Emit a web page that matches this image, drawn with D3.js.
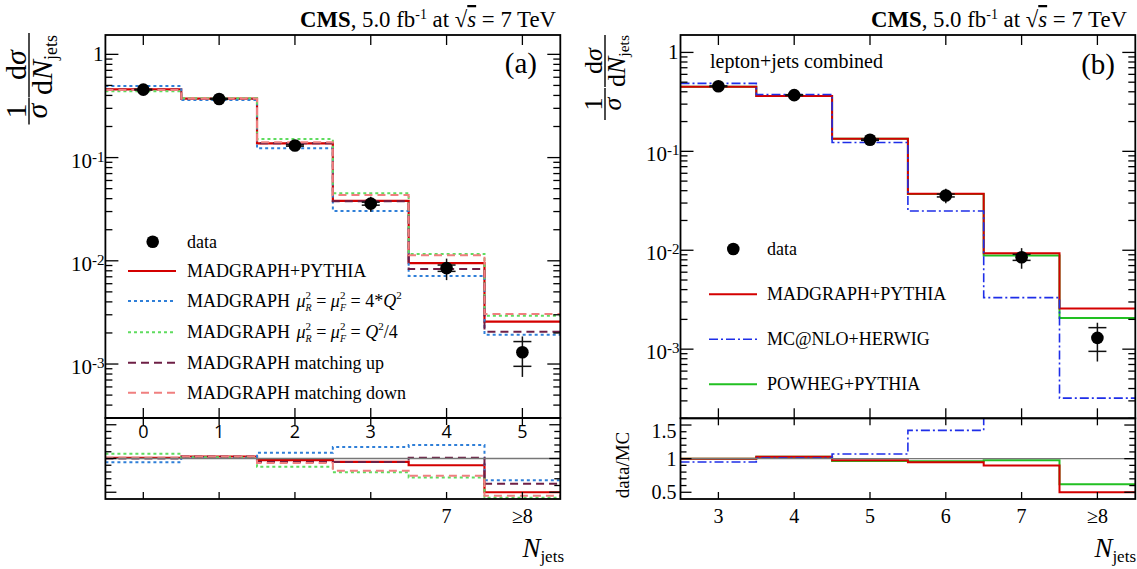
<!DOCTYPE html>
<html>
<head>
<meta charset="utf-8">
<script src="https://cdn.jsdelivr.net/npm/d3@7"></script>
<style>
  html, body { margin: 0; padding: 0; background: #fff; }
  svg text { font-family: "Liberation Serif", "Times New Roman", serif; fill: #000; }
</style>
</head>
<body>
<svg id="chart" width="1137" height="569"></svg>
<script>
// ---------------- data ----------------
const binCenters = [3, 4, 5, 6, 7, 8];
const xTickLabels = ["3", "4", "5", "6", "7", "\u22658"];
const ratioTopLabelsA = ["0", "1", "2", "3", "4", "5"];
const bottomLabelBinsA = [7, 8];
const bottomLabelsA = ["7", "\u22658"];
const logMajorTicks = [1, 0.1, 0.01, 0.001];
const logExponents = [0, -1, -2, -3];
const ratioMajorTicks = [0.5, 1, 1.5];
const ratioTickLabels = ["0.5", "1", "1.5"];

// normalised differential cross section (data)
const dataValues = [0.455, 0.370, 0.131, 0.0358, 0.0085, 0.0013];
const dataStatErr = [0.004, 0.004, 0.002, 0.0012, 0.0006, 0.00035];
const dataTotalErr = [0.012, 0.010, 0.005, 0.006, 0.0020, 0.00055];

// (a) MadGraph variations
const madgraphPythia = [0.458, 0.372, 0.137, 0.0380, 0.00948, 0.00258];
const madgraphScaleUp = [0.493, 0.361, 0.123, 0.0304, 0.00714, 0.00192];
const madgraphScaleDown = [0.440, 0.375, 0.151, 0.0451, 0.01166, 0.00294];
const madgraphMatchUp = [0.455, 0.370, 0.138, 0.0377, 0.00835, 0.00206];
const madgraphMatchDown = [0.452, 0.372, 0.141, 0.0435, 0.01130, 0.00306];

// (a) data / MC ratios
const ratioMadgraphPythiaA = [1.01, 1.03, 0.975, 0.95, 0.90, 0.50];
const ratioScaleUp = [0.945, 1.01, 1.085, 1.17, 1.20, 0.676];
const ratioScaleDown = [1.07, 1.02, 0.876, 0.796, 0.72, 0.42];
const ratioMatchUp = [1.00, 1.03, 0.95, 0.95, 1.01, 0.627];
const ratioMatchDown = [1.01, 1.03, 0.935, 0.82, 0.746, 0.45];

// (b) generator comparison
const madgraphPythiaB = [0.450, 0.362, 0.134, 0.0373, 0.00933, 0.00257];
const mcatnloHerwig = [0.486, 0.376, 0.123, 0.0249, 0.00332, 0.00032];
const powhegPythia = [0.450, 0.362, 0.134, 0.0371, 0.00883, 0.00207];

// (b) data / MC ratios
const ratioMadgraphPythiaB = [1.00, 1.03, 0.975, 0.945, 0.90, 0.50];
const ratioMcatnlo = [0.95, 1.01, 1.07, 1.42, 2.56, 4.06];
const ratioPowheg = [1.00, 1.03, 0.965, 0.96, 0.975, 0.62];

// ---------------- drawing ----------------
const svg = d3.select("#chart");
const RED = "#d40000";

function makePad(p) {
  p.x = d3.scaleLinear().domain([2.5, 8.5]).range([p.x0, p.x1]);
  p.y = d3.scaleLog().domain(p.yDomain).range([p.mainBot, p.top]);
  p.r = d3.scaleLinear().domain([0.4, 1.6]).range([p.ratioBot, p.mainBot]);
  const id = p.name;
  const defs = svg.append("defs");
  defs.append("clipPath").attr("id", "main-" + id).append("rect")
    .attr("x", p.x0).attr("y", p.top).attr("width", p.x1 - p.x0).attr("height", p.mainBot - p.top);
  defs.append("clipPath").attr("id", "ratio-" + id).append("rect")
    .attr("x", p.x0).attr("y", p.mainBot).attr("width", p.x1 - p.x0).attr("height", p.ratioBot - p.mainBot);
  p.gMain = svg.append("g").attr("clip-path", `url(#main-${id})`);
  p.gRatio = svg.append("g").attr("clip-path", `url(#ratio-${id})`);
  return p;
}

function stepPoints(vals) {
  const pts = [];
  vals.forEach((v, i) => { pts.push([binCenters[i] - 0.5, v]); pts.push([binCenters[i] + 0.5, v]); });
  return pts;
}

function drawHist(g, xs, ys, vals, style, clampDomain) {
  const line = d3.line()
    .x(d => xs(d[0]))
    .y(d => ys(clampDomain ? Math.max(clampDomain[0], Math.min(clampDomain[1], d[1])) : d[1]));
  g.append("path").attr("d", line(stepPoints(vals)))
    .attr("fill", "none").attr("stroke", style.color).attr("stroke-width", style.width)
    .attr("stroke-dasharray", style.dash || null);
}

function drawFrameAndTicks(p) {
  const g = svg.append("g").attr("stroke", "#000").attr("fill", "none");
  // x ticks on both pads
  binCenters.forEach(c => {
    const xx = p.x(c);
    g.append("line").attr("x1", xx).attr("x2", xx).attr("y1", p.top).attr("y2", p.top + 10).attr("stroke-width", 1.3);
    g.append("line").attr("x1", xx).attr("x2", xx).attr("y1", p.mainBot - 10).attr("y2", p.mainBot).attr("stroke-width", 1.3);
    g.append("line").attr("x1", xx).attr("x2", xx).attr("y1", p.mainBot).attr("y2", p.mainBot + 7).attr("stroke-width", 1.3);
    g.append("line").attr("x1", xx).attr("x2", xx).attr("y1", p.ratioBot - 7).attr("y2", p.ratioBot).attr("stroke-width", 1.3);
  });
  // main-pad log y ticks
  const [lo, hi] = p.yDomain;
  for (let e = -5; e <= 1; e++) {
    for (let m = 1; m <= 9; m++) {
      const v = m * Math.pow(10, e);
      if (v < lo || v > hi) continue;
      const len = m === 1 ? 13 : 7;
      const yy = p.y(v);
      g.append("line").attr("x1", p.x0).attr("x2", p.x0 + len).attr("y1", yy).attr("y2", yy).attr("stroke-width", 1.3);
      g.append("line").attr("x1", p.x1 - len).attr("x2", p.x1).attr("y1", yy).attr("y2", yy).attr("stroke-width", 1.3);
    }
  }
  // ratio-pad y ticks
  for (let k = 4; k <= 16; k++) {
    const v = k / 10;
    const len = (k % 5 === 0) ? 11 : 6;
    const yy = p.r(v);
    if (yy < p.mainBot + 1 || yy > p.ratioBot - 1) continue;
    g.append("line").attr("x1", p.x0).attr("x2", p.x0 + len).attr("y1", yy).attr("y2", yy).attr("stroke-width", 1.3);
    g.append("line").attr("x1", p.x1 - len).attr("x2", p.x1).attr("y1", yy).attr("y2", yy).attr("stroke-width", 1.3);
  }
  // frames
  g.append("rect").attr("x", p.x0).attr("y", p.top).attr("width", p.x1 - p.x0).attr("height", p.mainBot - p.top).attr("stroke-width", 1.8);
  g.append("rect").attr("x", p.x0).attr("y", p.mainBot).attr("width", p.x1 - p.x0).attr("height", p.ratioBot - p.mainBot).attr("stroke-width", 1.8);

  // main y labels
  logMajorTicks.forEach((v, i) => {
    const yy = p.y(v);
    const t = svg.append("text").attr("text-anchor", "end").attr("font-size", 21);
    if (logExponents[i] === 0) {
      t.attr("x", p.x0 - 2).attr("y", yy + 7).text("1");
    } else {
      t.attr("x", p.x0 - 1).attr("y", yy + 10);
      t.append("tspan").text("10");
      t.append("tspan").attr("font-size", 15).attr("dy", -6).text(String(logExponents[i]));
    }
  });
}

function drawData(p, r) {
  const g = svg.append("g");
  dataValues.forEach((v, i) => {
    const xx = p.x(binCenters[i]);
    g.append("line").attr("x1", xx).attr("x2", xx)
      .attr("y1", p.y(v + dataTotalErr[i])).attr("y2", p.y(v - dataTotalErr[i]))
      .attr("stroke", "#111").attr("stroke-width", 1.5);
    [v + dataStatErr[i], v - dataStatErr[i]].forEach(s => {
      g.append("line").attr("x1", xx - 9).attr("x2", xx + 9).attr("y1", p.y(s)).attr("y2", p.y(s))
        .attr("stroke", "#111").attr("stroke-width", 1.5);
    });
    g.append("circle").attr("cx", xx).attr("cy", p.y(v)).attr("r", r).attr("fill", "#000");
  });
}

function drawOneLine(p) {
  svg.append("line").attr("x1", p.x0).attr("x2", p.x1).attr("y1", p.r(1)).attr("y2", p.r(1))
    .attr("stroke", "#777").attr("stroke-width", 1.4);
}

function drawHeader(xRight) {
  const t = svg.append("text").attr("x", xRight).attr("y", 27).attr("text-anchor", "end").attr("font-size", 22.8);
  t.append("tspan").attr("font-weight", "bold").text("CMS");
  t.append("tspan").text(", 5.0 fb");
  t.append("tspan").attr("font-size", 14).attr("dy", -8).text("-1");
  t.append("tspan").attr("dy", 8).text(" at ");
  t.append("tspan").text("\u221A");
  t.append("tspan").attr("font-style", "italic").style("text-decoration", "overline").text("s");
  t.append("tspan").text(" = 7 TeV");
}

function drawYTitle(xBar, c1, w1, c2, w2, fs) {
  const g = svg.append("g").attr("transform", `translate(${xBar},0) rotate(-90)`);
  // 1 / sigma
  g.append("line").attr("x1", -c1 - w1 / 2).attr("x2", -c1 + w1 / 2).attr("y1", 0).attr("y2", 0)
    .attr("stroke", "#000").attr("stroke-width", 1.4);
  g.append("text").attr("x", -c1).attr("y", -3).attr("text-anchor", "middle").attr("font-size", fs).text("1");
  g.append("text").attr("x", -c1).attr("y", fs * 0.6).attr("text-anchor", "middle").attr("font-size", fs)
    .attr("font-style", "italic").text("\u03c3");
  // d sigma / d N_jets
  g.append("line").attr("x1", -c2 - w2 / 2).attr("x2", -c2 + w2 / 2).attr("y1", 0).attr("y2", 0)
    .attr("stroke", "#000").attr("stroke-width", 1.4);
  const num = g.append("text").attr("x", -c2).attr("y", -3).attr("text-anchor", "middle").attr("font-size", fs);
  num.append("tspan").text("d");
  num.append("tspan").attr("font-style", "italic").text("\u03c3");
  const den = g.append("text").attr("x", -c2).attr("y", fs * 0.76).attr("text-anchor", "middle").attr("font-size", fs);
  den.append("tspan").text("d");
  den.append("tspan").attr("font-style", "italic").text("N");
  den.append("tspan").attr("font-size", fs * 0.6).attr("dy", fs * 0.18).text("jets");
}

function drawXTitle(xRight) {
  const t = svg.append("text").attr("x", xRight).attr("y", 557).attr("text-anchor", "end").attr("font-size", 27);
  t.append("tspan").attr("font-style", "italic").text("N");
  t.append("tspan").attr("font-size", 17).attr("dy", 5).text("jets");
}

// ---------- panel (a) ----------
const A = makePad({ name: "a", x0: 105.4, x1: 560.3, top: 35, mainBot: 418, ratioBot: 499, yDomain: [3.0e-4, 1.54] });
const styleA = {
  pythia: { color: RED, width: 2.2 },
  up: { color: "#2f7fd8", width: 2, dash: "3,3" },
  down: { color: "#5fdc5f", width: 2, dash: "3,3" },
  mUp: { color: "#6e1f45", width: 2, dash: "8,5" },
  mDown: { color: "#f07f7f", width: 2, dash: "8,5" }
};
drawHist(A.gMain, A.x, A.y, madgraphPythia, styleA.pythia);
drawHist(A.gMain, A.x, A.y, madgraphScaleUp, styleA.up);
drawHist(A.gMain, A.x, A.y, madgraphScaleDown, styleA.down);
drawHist(A.gMain, A.x, A.y, madgraphMatchUp, styleA.mUp);
drawHist(A.gMain, A.x, A.y, madgraphMatchDown, styleA.mDown);
drawOneLine(A);
drawHist(A.gRatio, A.x, A.r, ratioMadgraphPythiaA, styleA.pythia, [0.4, 1.6]);
drawHist(A.gRatio, A.x, A.r, ratioScaleUp, styleA.up, [0.4, 1.6]);
drawHist(A.gRatio, A.x, A.r, ratioScaleDown, styleA.down, [0.4, 1.6]);
drawHist(A.gRatio, A.x, A.r, ratioMatchUp, styleA.mUp, [0.4, 1.6]);
drawHist(A.gRatio, A.x, A.r, ratioMatchDown, styleA.mDown, [0.4, 1.6]);
drawData(A, 6.3);
drawFrameAndTicks(A);

// ratio pad labels of (a)
ratioTopLabelsA.forEach((lab, i) => {
  svg.append("text").attr("x", A.x(binCenters[i])).attr("y", 438).attr("text-anchor", "middle")
    .attr("font-size", 18).style("font-family", "'Open Sans', 'DejaVu Sans', sans-serif").text(lab);
});
bottomLabelsA.forEach((lab, i) => {
  svg.append("text").attr("x", A.x(bottomLabelBinsA[i])).attr("y", 523).attr("text-anchor", "middle")
    .attr("font-size", 20).text(lab);
});

svg.append("text").attr("x", 537).attr("y", 73).attr("text-anchor", "end").attr("font-size", 29).text("(a)");

// legend (a)
const legA = svg.append("g");
const legRowsA = [271, 301, 332.3, 362.7, 392.7];
legA.append("circle").attr("cx", 152.7).attr("cy", 241.7).attr("r", 6.3).attr("fill", "#000");
legA.append("text").attr("x", 187).attr("y", 247.5).attr("font-size", 18).text("data");
[styleA.pythia, styleA.up, styleA.down, styleA.mUp, styleA.mDown].forEach((s, i) => {
  legA.append("line").attr("x1", 128).attr("x2", 176).attr("y1", legRowsA[i]).attr("y2", legRowsA[i])
    .attr("stroke", s.color).attr("stroke-width", s.width).attr("stroke-dasharray", s.dash || null);
});
legA.append("text").attr("x", 187).attr("y", legRowsA[0] + 6).attr("font-size", 18).text("MADGRAPH+PYTHIA");
function muScaleLabel(yBase, tail) {
  const t = legA.append("text").attr("x", 187).attr("y", yBase).attr("font-size", 18);
  t.append("tspan").text("MADGRAPH ");
  ["R", "F"].forEach((sub, k) => {
    t.append("tspan").attr("font-style", "italic").attr("dx", k === 0 ? 2 : 0).text("\u03bc");
    t.append("tspan").attr("font-size", 11).attr("dy", -8).text("2");
    t.append("tspan").attr("font-size", 10).attr("font-style", "italic").attr("dx", -5.5).attr("dy", 12).text(sub);
    t.append("tspan").attr("dy", -4).text(" = ");
  });
  tail(t);
}
muScaleLabel(legRowsA[1] + 6, t => {
  t.append("tspan").text("4*");
  t.append("tspan").attr("font-style", "italic").text("Q");
  t.append("tspan").attr("font-size", 11).attr("dy", -8).text("2");
});
muScaleLabel(legRowsA[2] + 6, t => {
  t.append("tspan").attr("font-style", "italic").text("Q");
  t.append("tspan").attr("font-size", 11).attr("dy", -8).text("2");
  t.append("tspan").attr("dy", 8).text("/4");
});
legA.append("text").attr("x", 187).attr("y", legRowsA[3] + 6).attr("font-size", 18).text("MADGRAPH matching up");
legA.append("text").attr("x", 187).attr("y", legRowsA[4] + 6).attr("font-size", 18).text("MADGRAPH matching down");

drawHeader(556);
drawYTitle(29, 111, 27, 65, 64, 30);
drawXTitle(564);

// ---------- panel (b) ----------
const B = makePad({ name: "b", x0: 680.5, x1: 1135.3, top: 35, mainBot: 418.3, ratioBot: 499, yDomain: [2.0e-4, 1.5] });
const styleB = {
  pythia: { color: RED, width: 2 },
  mcatnlo: { color: "#1e2ee8", width: 1.6, dash: "9,3,2,3" },
  powheg: { color: "#22c022", width: 2 }
};
drawHist(B.gMain, B.x, B.y, powhegPythia, styleB.powheg);
drawHist(B.gMain, B.x, B.y, madgraphPythiaB, styleB.pythia);
drawHist(B.gMain, B.x, B.y, mcatnloHerwig, styleB.mcatnlo);
drawOneLine(B);
drawHist(B.gRatio, B.x, B.r, ratioPowheg, styleB.powheg, [0.4, 1.6]);
drawHist(B.gRatio, B.x, B.r, ratioMadgraphPythiaB, styleB.pythia, [0.4, 1.6]);
drawHist(B.gRatio, B.x, B.r, ratioMcatnlo, styleB.mcatnlo, [0.4, 1.6]);
drawData(B, 6.3);
drawFrameAndTicks(B);

ratioMajorTicks.forEach((v, i) => {
  const yy = Math.max(B.r(v) + 7, B.mainBot + 20);
  svg.append("text").attr("x", B.x0 - 4).attr("y", yy).attr("text-anchor", "end").attr("font-size", 20).text(ratioTickLabels[i]);
});
xTickLabels.forEach((lab, i) => {
  svg.append("text").attr("x", B.x(binCenters[i])).attr("y", 523).attr("text-anchor", "middle")
    .attr("font-size", 20).text(lab);
});
svg.append("text").attr("transform", "translate(629,465) rotate(-90)").attr("text-anchor", "middle")
  .attr("font-size", 19).text("data/MC");

svg.append("text").attr("x", 1115).attr("y", 74).attr("text-anchor", "end").attr("font-size", 29).text("(b)");
svg.append("text").attr("x", 710).attr("y", 68).attr("font-size", 20).text("lepton+jets combined");

const legB = svg.append("g");
const legRowsB = [294.3, 339.3, 384.3];
legB.append("circle").attr("cx", 733.3).attr("cy", 249).attr("r", 6.3).attr("fill", "#000");
legB.append("text").attr("x", 767).attr("y", 255).attr("font-size", 18).text("data");
[styleB.pythia, styleB.mcatnlo, styleB.powheg].forEach((s, i) => {
  legB.append("line").attr("x1", 709).attr("x2", 757).attr("y1", legRowsB[i]).attr("y2", legRowsB[i])
    .attr("stroke", s.color).attr("stroke-width", s.width).attr("stroke-dasharray", s.dash || null);
});
["MADGRAPH+PYTHIA", "MC@NLO+HERWIG", "POWHEG+PYTHIA"].forEach((lab, i) => {
  legB.append("text").attr("x", 767).attr("y", legRowsB[i] + 6).attr("font-size", 18).text(lab);
});

drawHeader(1127);
drawYTitle(605, 104, 32, 61, 52, 26);
drawXTitle(1136);
</script>
</body>
</html>
